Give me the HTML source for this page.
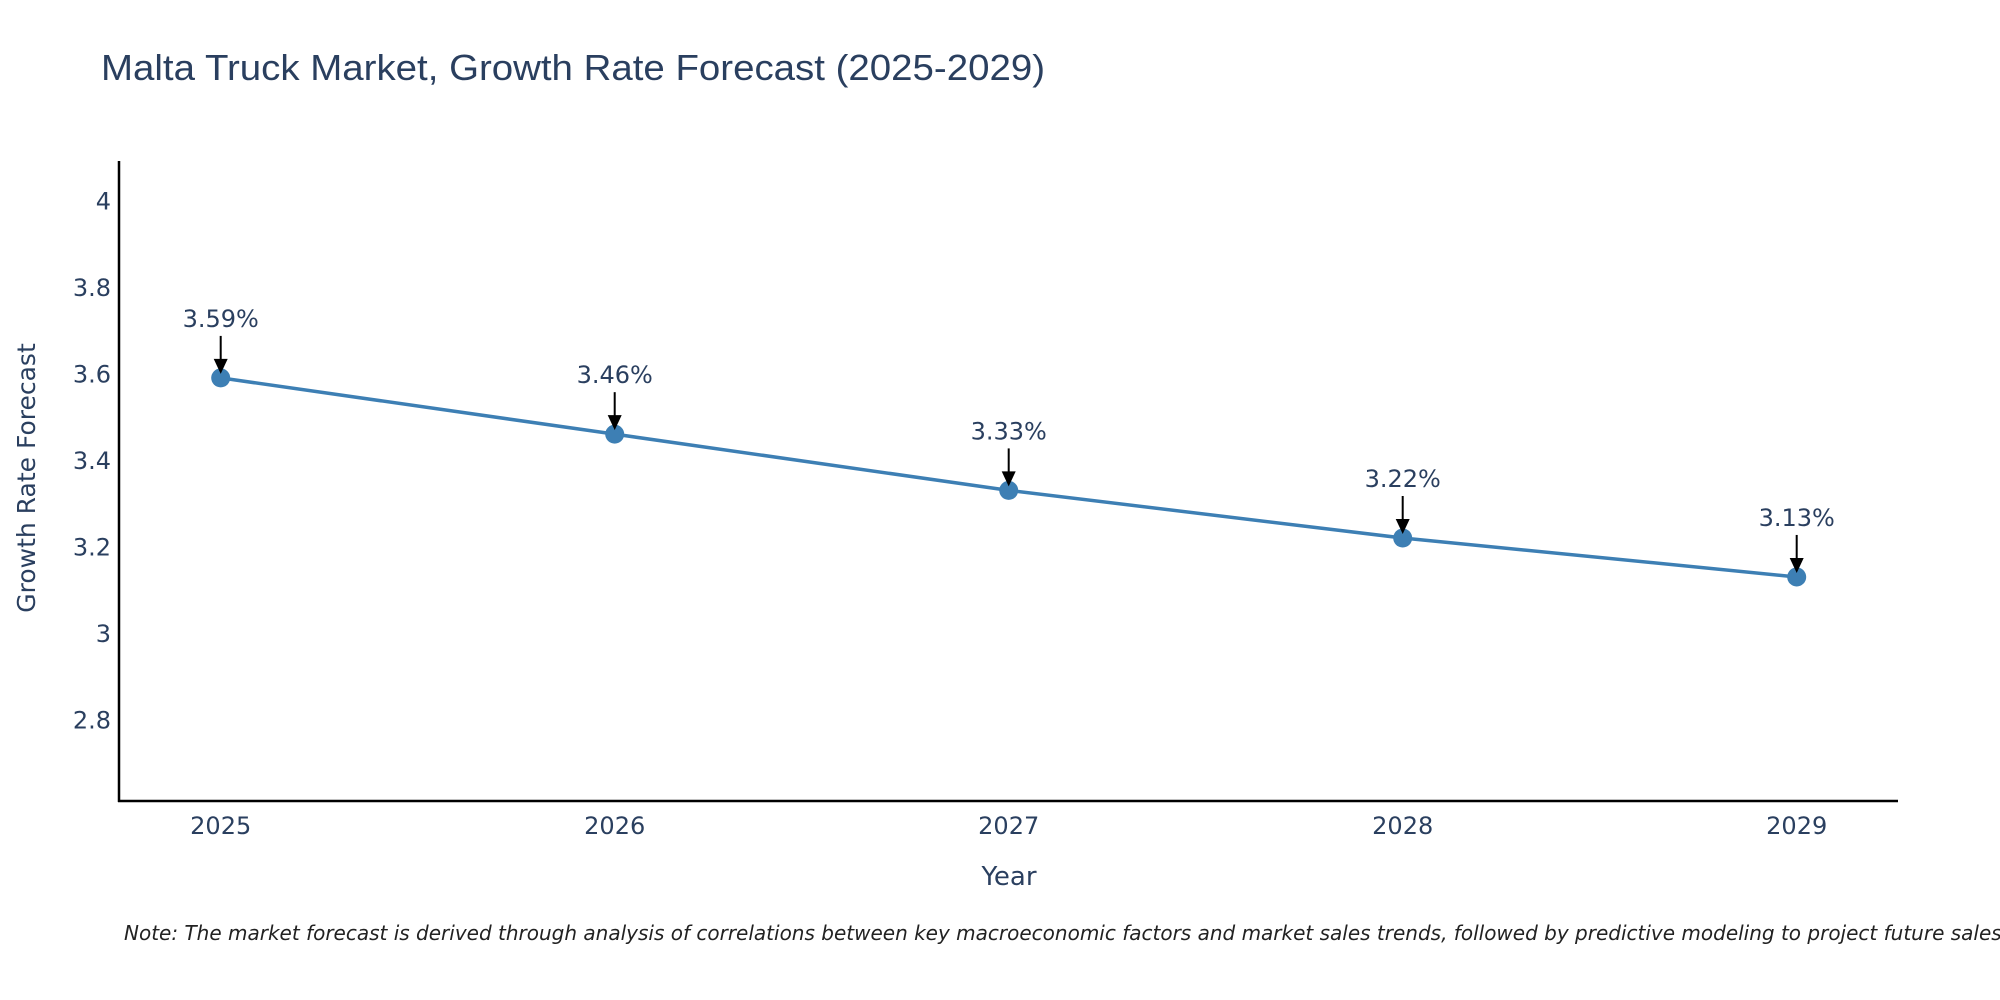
<!DOCTYPE html>
<html><head><meta charset="utf-8"><style>
body{margin:0;background:#fff}
svg{display:block;font-family:"DejaVu Sans","Liberation Sans",sans-serif}
</style></head><body>
<svg id="chart" width="2000" height="1000" viewBox="0 0 2000 1000">
<text x="101" y="80" font-size="36" fill="#2a3f5f" textLength="944" lengthAdjust="spacingAndGlyphs" font-family="Liberation Sans, sans-serif">Malta Truck Market, Growth Rate Forecast (2025-2029)</text>
<g id="yticks"></g>
<g id="xticks"></g>
<line x1="119" y1="161" x2="119" y2="802" stroke="#000" stroke-width="2.5"/>
<line x1="118" y1="801" x2="1898" y2="801" stroke="#000" stroke-width="2.5"/>
<g id="series"></g>
<g id="annots"></g>
<text transform="translate(35,478) rotate(-90)" text-anchor="middle" font-size="25" fill="#2a3f5f">Growth Rate Forecast</text>
<text x="1009" y="885" text-anchor="middle" font-size="26" fill="#2a3f5f">Year</text>
<text x="124" y="940" font-size="20" font-style="italic" fill="#222">Note: The market forecast is derived through analysis of correlations between key macroeconomic factors and market sales trends, followed by predictive modeling to project future sales.</text>
</svg>
<script>
const years = [2025, 2026, 2027, 2028, 2029];
const values = [3.59, 3.46, 3.33, 3.22, 3.13];
const labels = ["3.59%", "3.46%", "3.33%", "3.22%", "3.13%"];
const yTickValues = [2.8, 3, 3.2, 3.4, 3.6, 3.8, 4];
const yTickLabels = ["2.8", "3", "3.2", "3.4", "3.6", "3.8", "4"];

const NS = "http://www.w3.org/2000/svg";
function xS(v){ return 220.7 + (v - 2025) * 394; }
function yS(v){ return 200.5 + (4 - v) * 432.7; }
function mk(tag, attrs, parent){ const e=document.createElementNS(NS,tag); for(const k in attrs) e.setAttribute(k,attrs[k]); parent.appendChild(e); return e; }

const yt=document.getElementById('yticks');
yTickValues.forEach((v,i)=>{
  const t=mk('text',{x:111,y:yS(v)+9,'text-anchor':'end','font-size':24,fill:'#2a3f5f'},yt);
  
  
  t.textContent=yTickLabels[i];
});
const xt=document.getElementById('xticks');
years.forEach(y=>{
  const t=mk('text',{x:xS(y),y:834,'text-anchor':'middle','font-size':24,fill:'#2a3f5f'},xt);
  
  
  t.textContent=String(y);
});
const s=document.getElementById('series');
const pl=mk('polyline',{points:years.map((y,i)=>xS(y)+','+yS(values[i])).join(' '),fill:'none',stroke:'#3d7fb4','stroke-width':3.5},s);


years.forEach((y,i)=>{
  const c=mk('circle',{cx:xS(y),cy:yS(values[i]),r:9.5,fill:'#3d7fb4'},s);
  
  
});
const a=document.getElementById('annots');
years.forEach((y,i)=>{
  const px=xS(y), py=yS(values[i]);
  const l=mk('line',{x1:px,y1:py-42,x2:px,y2:py-14,stroke:'#000','stroke-width':2},a);
  
  
  const h=mk('polygon',{points:(px-7)+','+(py-19)+' '+(px+7)+','+(py-19)+' '+px+','+(py-4),fill:'#000'},a);
  
  
  const t=mk('text',{x:px,y:py-51,'text-anchor':'middle','font-size':24,fill:'#2a3f5f'},a);
  
  
  t.textContent=labels[i];
});
</script>
</body></html>
